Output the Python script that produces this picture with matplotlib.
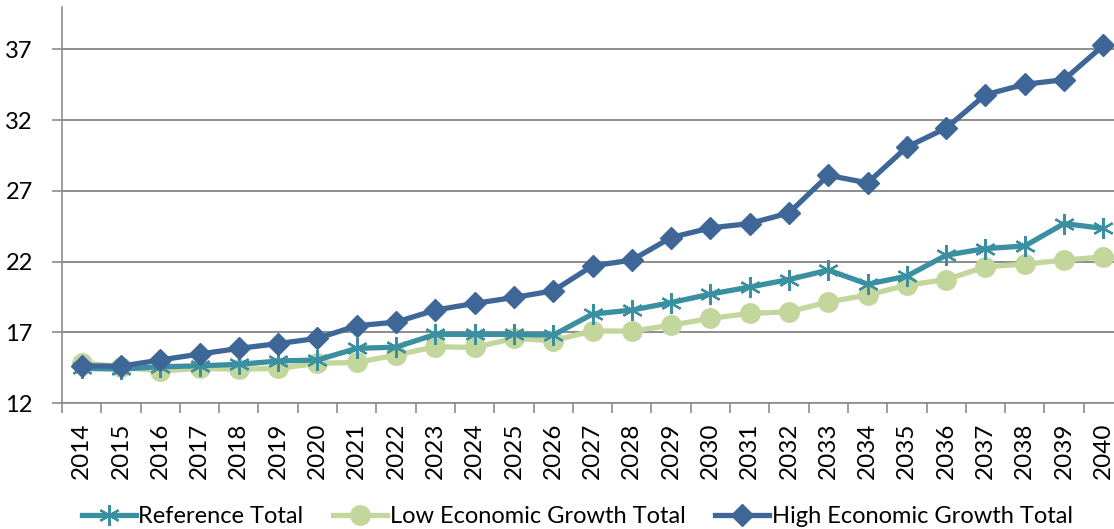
import matplotlib.pyplot as plt
import numpy as np

years = [str(y) for y in range(2014, 2041)]

reference_total = [14.45, 14.4, 14.56, 14.63, 14.73, 14.97, 15.04, 15.86, 15.95,
                   16.85, 16.85, 16.85, 16.8, 18.29, 18.57, 19.1, 19.7, 20.2,
                   20.73, 21.4, 20.4, 20.97, 22.45, 22.92, 23.1, 24.69, 24.34]
low_growth_total = [14.85, 14.56, 14.26, 14.45, 14.38, 14.45, 14.8, 14.87, 15.39,
                    15.98, 15.93, 16.57, 16.4, 17.1, 17.08, 17.5, 17.98, 18.33,
                    18.45, 19.15, 19.63, 20.33, 20.73, 21.63, 21.82, 22.1, 22.33]
high_growth_total = [14.63, 14.6, 15.04, 15.46, 15.86, 16.2, 16.57, 17.46, 17.72,
                     18.57, 19.04, 19.46, 19.93, 21.7, 22.1, 23.7, 24.38, 24.69,
                     25.44, 28.1, 27.56, 30.1, 31.44, 33.8, 34.53, 34.86, 37.28]

y_ticks = [12, 17, 22, 27, 32, 37]

plt.rcParams["font.family"] = ["Lato", "DejaVu Sans"]

fig = plt.figure(figsize=(11.14, 5.29), dpi=100)
ax = fig.add_axes([62 / 1114, 126 / 529, 1061 / 1114, 396 / 529])

x = np.arange(len(years))
ax.plot(x, reference_total, color="#3A8FA0", lw=3.8, marker=(6, 2, 0),
        ms=15, mew=1.6, label="Reference Total", zorder=3)
ax.plot(x, low_growth_total, color="#C3D69B", lw=3.8, marker="o",
        ms=14, label="Low Economic Growth Total", zorder=2)
ax.plot(x, high_growth_total, color="#3E6797", lw=3.8, marker="D",
        ms=11, label="High Economic Growth Total", zorder=4)

ax.set_xlim(-0.5, len(years) - 0.5)
ax.set_ylim(12, 40)
ax.set_yticks(y_ticks)
ax.yaxis.grid(True, color="#8c8c8c", lw=1.4)
ax.set_axisbelow(True)

ax.set_xticks(x)
ax.set_xticklabels(years, rotation=90, fontsize=17.5)
ax.set_xticks(np.arange(-0.5, len(years)), minor=True)
ax.tick_params(axis="x", which="major", length=0, pad=14)
ax.tick_params(axis="x", which="minor", length=7, color="#8c8c8c", width=1.2)
ax.tick_params(axis="y", length=7, color="#8c8c8c", width=1.2, labelsize=17, pad=14)

for side in ("top", "right"):
    ax.spines[side].set_visible(False)
for side in ("left", "bottom"):
    ax.spines[side].set_color("#8c8c8c")
    ax.spines[side].set_linewidth(1.2)

fig.legend(loc="center", bbox_to_anchor=(0.518, 0.024), ncol=3, frameon=False,
           fontsize=17, handlelength=2.3, columnspacing=1.25, handletextpad=0.1,
           borderaxespad=0)

fig.savefig("out.png", dpi=100)
